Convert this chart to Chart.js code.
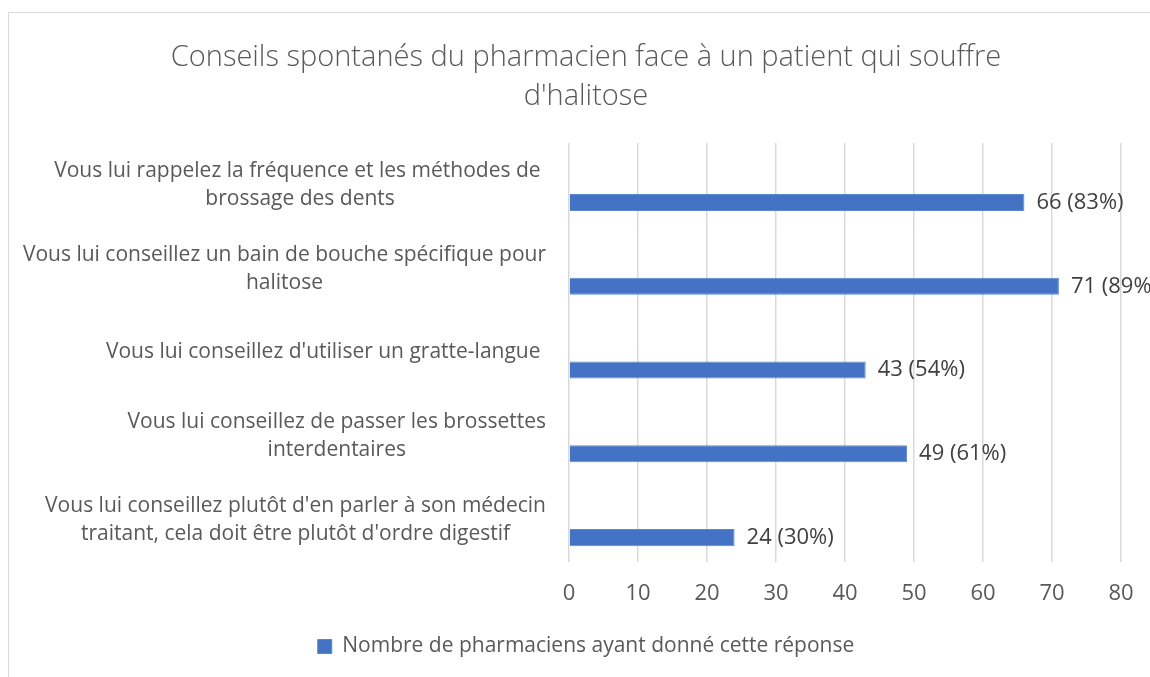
<!DOCTYPE html>
<html>
<head>
<meta charset="utf-8">
<script src="https://cdn.jsdelivr.net/npm/chart.js@4"></script>
<style>
  html, body { margin: 0; padding: 0; background: #fff; overflow: hidden; }
  .frame { position: absolute; left: 8px; top: 12px; width: 1200px; height: 700px; border: 1px solid #d9d9d9; }
  .wrap { position: absolute; left: 0; top: 0; width: 1172px; height: 677px; }
</style>
</head>
<body>
<div class="frame"></div>
<div class="wrap"><canvas id="halitoseChart"></canvas></div>
<script>
// category labels (already wrapped as in the original)
const categories = [
  ['Vous lui rappelez la fréquence et les méthodes de ', 'brossage des dents'],
  ['Vous lui conseillez un bain de bouche spécifique pour', 'halitose'],
  ["Vous lui conseillez d'utiliser un gratte-langue "],
  ['Vous lui conseillez de passer les brossettes', 'interdentaires'],
  ["Vous lui conseillez plutôt d'en parler à son médecin", "traitant, cela doit être plutôt d'ordre digestif"]
];
const counts = [66, 71, 43, 49, 24];
const percents = [83, 89, 54, 61, 30];
const placeholder = [null, null, null, null, null];

const titleLines = ['Conseils spontanés du pharmacien face à un patient qui souffre', "d'halitose"];
const seriesName = 'Nombre de pharmaciens ayant donné cette réponse';
const xMin = 0, xMax = 80, xStep = 10;

const FONT = '"Open Sans", "Noto Sans", sans-serif';

// draws the wrapped category labels (right aligned block, centred lines)
const categoryLabels = {
  id: 'categoryLabels',
  afterDraw(chart) {
    const ctx = chart.ctx;
    const yScale = chart.scales.y;
    ctx.save();
    ctx.font = '21px ' + FONT;
    ctx.fillStyle = '#595959';
    ctx.textAlign = 'center';
    ctx.textBaseline = 'middle';
    categories.forEach((lines, i) => {
      const y = yScale.getPixelForValue(i);
      const w = Math.max(...lines.map(l => ctx.measureText(l).width));
      const cx = 546 - w / 2;
      lines.forEach((l, j) => {
        ctx.fillText(l, cx, y + (j - (lines.length - 1) / 2) * 28);
      });
    });
    ctx.restore();
  }
};

// value labels at the end of each bar
const valueLabels = {
  id: 'valueLabels',
  afterDatasetsDraw(chart) {
    const ctx = chart.ctx;
    const meta = chart.getDatasetMeta(1);
    ctx.save();
    ctx.font = '22px ' + FONT;
    ctx.fillStyle = '#404040';
    ctx.textAlign = 'left';
    ctx.textBaseline = 'middle';
    meta.data.forEach((bar, i) => {
      ctx.fillText(counts[i] + ' (' + percents[i] + '%)', bar.x + 12, bar.y);
    });
    ctx.restore();
  }
};

new Chart(document.getElementById('halitoseChart'), {
  type: 'bar',
  data: {
    labels: categories,
    datasets: [{
      label: '',
      data: placeholder,
      backgroundColor: 'transparent'
    }, {
      label: seriesName,
      data: counts,
      backgroundColor: '#4472c4',
      borderColor: '#5b86d0',
      borderWidth: 1
    }]
  },
  options: {
    indexAxis: 'y',
    responsive: true,
    maintainAspectRatio: false,
    animation: false,
    categoryPercentage: 0.837,
    barPercentage: 0.486,
    layout: { padding: { left: 0, right: 0, top: 0, bottom: 10 } },
    plugins: {
      title: {
        display: true,
        text: titleLines,
        color: '#595959',
        font: { family: FONT, size: 29, weight: 300, lineHeight: 1.345 },
        padding: { top: 38.5, bottom: 26.5 }
      },
      legend: {
        display: true,
        position: 'bottom',
        labels: {
          color: '#595959',
          font: { family: FONT, size: 21 },
          boxWidth: 14,
          boxHeight: 14,
          filter: item => item.datasetIndex === 1
        }
      },
      tooltip: { enabled: false }
    },
    scales: {
      x: {
        min: xMin,
        max: xMax,
        ticks: {
          stepSize: xStep,
          color: '#595959',
          font: { family: FONT, size: 22 },
          padding: 19
        },
        grid: { color: '#d9d9d9', lineWidth: 1.5, drawTicks: false },
        border: { display: false },
        afterFit(scale) {
          scale.height = 64;
          scale.paddingRight = 51;
        }
      },
      y: {
        ticks: { display: false },
        grid: { display: false },
        border: { display: false },
        afterFit(scale) { scale.width = 569; }
      }
    }
  },
  plugins: [categoryLabels, valueLabels]
});
</script>
</body>
</html>
